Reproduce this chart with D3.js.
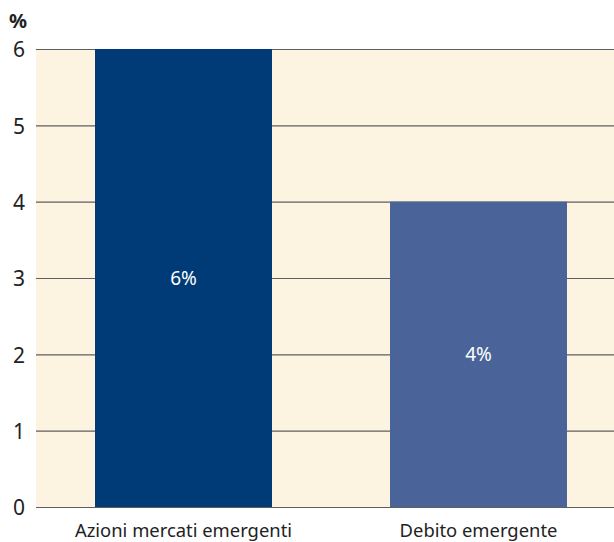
<!DOCTYPE html>
<html>
<head>
<meta charset="utf-8">
<script src="https://cdn.jsdelivr.net/npm/d3@7"></script>
<style>
  body { margin: 0; background: #fff; }
  svg { display: block; font-family: "Noto Sans", sans-serif; }
</style>
</head>
<body>
<svg id="svg"></svg>
<script>
const categories = ["Azioni mercati emergenti", "Debito emergente"];
const values = [6, 4];
const barLabels = ["6%", "4%"];
const barColors = ["#003b78", "#4a6499"];
const yTicks = [0, 1, 2, 3, 4, 5, 6];

const width = 614, height = 542;
const margin = {top: 49, right: 0, bottom: 35, left: 36};

const svg = d3.select("#svg").attr("width", width).attr("height", height);

const x = d3.scaleBand()
    .domain(categories)
    .range([margin.left, 626])
    .paddingInner(0.4)
    .paddingOuter(0.2);

const y = d3.scaleLinear()
    .domain([0, 6])
    .range([height - margin.bottom, margin.top]);

// plot background
svg.append("rect")
    .attr("x", margin.left)
    .attr("y", y(6))
    .attr("width", width - margin.left)
    .attr("height", y(0) - y(6))
    .attr("fill", "#fdf3e1");

// gridlines
svg.append("g")
  .selectAll("line")
  .data(yTicks)
  .join("line")
    .attr("x1", margin.left)
    .attr("x2", width)
    .attr("y1", d => y(d) + 0.5)
    .attr("y2", d => y(d) + 0.5)
    .attr("stroke", "#5f5f5f")
    .attr("stroke-width", 1.2);

// bars
svg.append("g")
  .selectAll("rect")
  .data(values)
  .join("rect")
    .attr("x", (d, i) => x(categories[i]))
    .attr("y", d => y(d))
    .attr("width", x.bandwidth())
    .attr("height", d => y(0) - y(d))
    .attr("fill", (d, i) => barColors[i]);

// labels in bars
svg.append("g")
  .selectAll("text")
  .data(values)
  .join("text")
    .attr("x", (d, i) => x(categories[i]) + x.bandwidth() / 2)
    .attr("y", d => y(d / 2))
    .attr("dy", "0.35em")
    .attr("text-anchor", "middle")
    .attr("fill", "#fff")
    .attr("font-size", 19)
    .text((d, i) => barLabels[i]);

// y tick labels
svg.append("g")
  .selectAll("text")
  .data(yTicks)
  .join("text")
    .attr("x", 19)
    .attr("y", d => y(d) + 1)
    .attr("dy", "0.35em")
    .attr("text-anchor", "middle")
    .attr("fill", "#222")
    .attr("font-size", 21)
    .text(d => d);

// category labels
svg.append("g")
  .selectAll("text")
  .data(categories)
  .join("text")
    .attr("x", d => x(d) + x.bandwidth() / 2)
    .attr("y", 531)
    .attr("dy", "0.35em")
    .attr("text-anchor", "middle")
    .attr("fill", "#222")
    .attr("font-size", 18.4)
    .text(d => d);

// unit
svg.append("text")
    .attr("x", 9)
    .attr("y", 28)
    .attr("fill", "#222")
    .attr("font-size", 20)
    .attr("font-weight", "bold")
    .text("%");
</script>
</body>
</html>
